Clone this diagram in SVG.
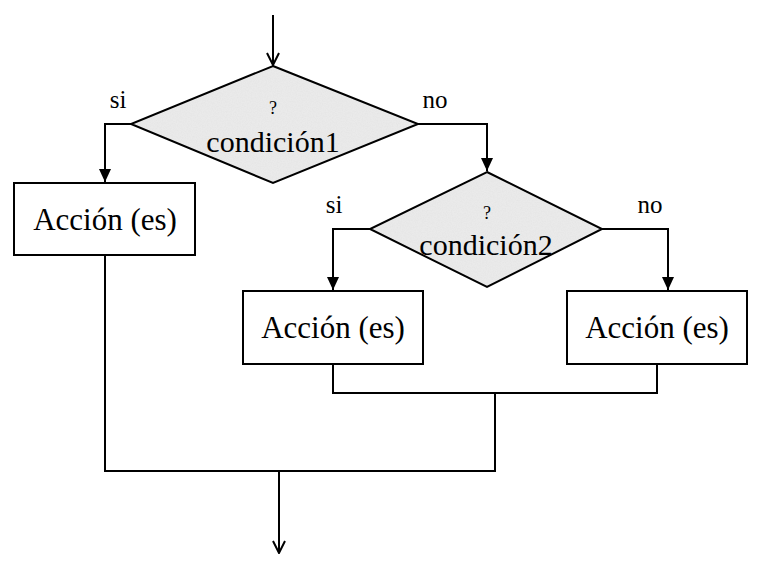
<svg xmlns="http://www.w3.org/2000/svg" width="770" height="575" viewBox="0 0 770 575">
<style>
.ln{fill:none;stroke:#000;stroke-width:2}
.box{fill:#fff;stroke:#000;stroke-width:2}
.t{font-family:'Liberation Serif','Times New Roman','DejaVu Serif',serif;fill:#000;text-anchor:middle}
.big{font-size:31px}
.cond{font-size:30px}
.lbl{font-size:25px}
.q{font-size:18px}
</style>
<defs>
<marker id="oa" markerWidth="14" markerHeight="16" refX="13" refY="7" orient="auto" markerUnits="userSpaceOnUse" viewBox="0 0 14 14">
<path d="M1,1 L13,7 L1,13" fill="none" stroke="#000" stroke-width="2"/>
</marker>
<marker id="fb" markerWidth="14" markerHeight="12" refX="13" refY="6" orient="auto" markerUnits="userSpaceOnUse" viewBox="0 0 14 12">
<path d="M0,0 L13,6 L0,12 Z" fill="#000"/>
</marker>
<filter id="tex" x="0" y="0" width="1" height="1">
<feTurbulence type="fractalNoise" baseFrequency="0.8" numOctaves="2" seed="3" result="n"/>
<feColorMatrix in="n" type="matrix" values="0 0 0 0 0.78  0 0 0 0 0.78  0 0 0 0 0.78  0 0 0 -1.6 1.1" result="g"/>
<feComposite in="g" in2="SourceGraphic" operator="atop"/>
</filter>
</defs>
<g id="connectors">
<path class="ln" d="M273,15 L273,65" marker-end="url(#oa)"/>
<path class="ln" d="M131,124 L105,124 L105,182" marker-end="url(#fb)"/>
<path class="ln" d="M418,124 L487,124 L487,171" marker-end="url(#fb)"/>
<path class="ln" d="M370,229 L333,229 L333,290" marker-end="url(#fb)"/>
<path class="ln" d="M602,229 L668,229 L668,290" marker-end="url(#fb)"/>
<path class="ln" d="M333,364 L333,393 L657,393 L657,364"/>
<path class="ln" d="M495,393 L495,471 L105,471 L105,255"/>
<path class="ln" d="M279,471 L279,553" marker-end="url(#oa)"/>
</g>
<g id="cond1">
<polygon points="273,66 418,124 273,183 131,124" fill="#eaeaea" filter="url(#tex)"/>
<polygon points="273,66 418,124 273,183 131,124" fill="none" stroke="#000" stroke-width="2"/>
<text class="t q" x="273" y="114">?</text>
<text class="t cond" x="273" y="152">condición1</text>
</g>
<g id="cond2">
<polygon points="487,172 602,229 487,287 370,229" fill="#eaeaea" filter="url(#tex)"/>
<polygon points="487,172 602,229 487,287 370,229" fill="none" stroke="#000" stroke-width="2"/>
<text class="t q" x="487" y="219">?</text>
<text class="t cond" x="486" y="255">condición2</text>
</g>
<g id="accion1">
<rect class="box" x="14" y="183" width="181" height="72"/>
<text class="t big" x="105" y="230">Acción (es)</text>
</g>
<g id="accion2">
<rect class="box" x="243" y="291" width="180" height="73"/>
<text class="t big" x="333" y="338">Acción (es)</text>
</g>
<g id="accion3">
<rect class="box" x="567" y="291" width="180" height="73"/>
<text class="t big" x="657" y="338">Acción (es)</text>
</g>
<g id="labels">
<text class="t lbl" x="118" y="108">si</text>
<text class="t lbl" x="435" y="108">no</text>
<text class="t lbl" x="334" y="213">si</text>
<text class="t lbl" x="650" y="213">no</text>
</g>
</svg>
